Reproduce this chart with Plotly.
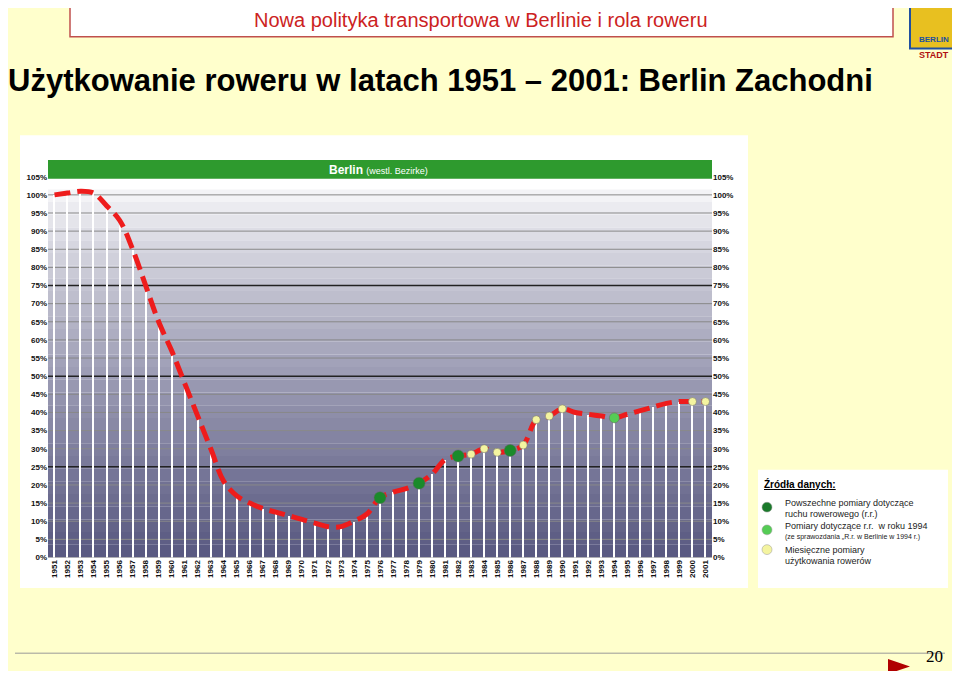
import plotly.graph_objects as go

# udział ruchu rowerowego, 1951 = 100%
years = list(range(1951, 2002))
usage = [100, 100.5, 101, 100.5, 97, 93, 85, 75, 65, 57,
         48, 39, 30, 21, 17, 15, 13.5, 12.5, 11.5, 10.5,
         9.5, 8.5, 8.5, 10, 12, 16.5, 18, 19, 20.5, 23,
         27, 28, 28.5, 30, 29, 29.5, 31, 38, 39, 41,
         40, 39.5, 39, 38.5, 39.5, 40.5, 41.5, 42.5, 43, 43, 43]

census_years = [1976, 1979, 1982, 1986]
survey94_years = [1994]
monthly_years = [1983, 1984, 1985, 1987, 1988, 1989, 1990, 2000, 2001]

yticks = list(range(0, 106, 5))
ytick_text = [f"{v}%" for v in yticks]

val = dict(zip(years, usage))

# page has an 8px body margin, so work in a 944x663 figure offset by 8px
OFF = 8
W, H = 960 - 2 * OFF, 679 - 2 * OFF
def px(x): return (x - OFF) / W
def py(y): return 1 - (y - OFF) / H

fig = go.Figure()

# white vertical lines under the curve
fig.add_trace(go.Bar(x=years, y=usage, width=0.09, marker_color="white",
                     marker_line_width=0, showlegend=False, hoverinfo="skip"))
fig.add_trace(go.Scatter(x=years, y=usage, mode="lines", line_shape="spline",
                         line=dict(color="#ee1c1c", width=5, dash="16px,7px"),
                         showlegend=False))
for ys, col, size in [(monthly_years, "#f4f4a0", 8),
                      (survey94_years, "#55cc55", 10),
                      (census_years, "#1a8a2a", 12)]:
    fig.add_trace(go.Scatter(x=ys, y=[val[y] for y in ys], mode="markers",
                             marker=dict(color=col, size=size, line=dict(color="#666", width=0.5)),
                             showlegend=False))
# right axis
fig.add_trace(go.Scatter(x=[years[0]], y=[0], yaxis="y2", mode="markers",
                         marker=dict(opacity=0), showlegend=False, hoverinfo="skip"))

shapes = []
shapes.append(dict(type="rect", xref="paper", yref="paper", x0=px(20), x1=px(748),
                   y0=py(592), y1=py(133), fillcolor="white", line_width=0, layer="below"))
# gradient plot background
n = 30
for i in range(n):
    t = (i / (n - 1)) ** 0.8
    r = int(255 - t * (255 - 90)); g = int(255 - t * (255 - 90)); b = int(255 - t * (255 - 130))
    shapes.append(dict(type="rect", xref="paper", yref="y", x0=px(48), x1=px(712),
                       y0=105 - (i + 1) * 105 / n, y1=105 - i * 105 / n,
                       fillcolor=f"rgb({r},{g},{b})", line_width=0, layer="below"))
for v in yticks:
    thick = v in (25, 50, 75)
    shapes.append(dict(type="line", xref="paper", yref="y", x0=px(48), x1=px(712), y0=v, y1=v,
                       line=dict(color="#222" if thick else "#888", width=1.5 if thick else 1),
                       layer="below"))
shapes.append(dict(type="rect", xref="paper", yref="paper", x0=px(48), x1=px(712),
                   y0=py(177), y1=py(158), fillcolor="#2e9a2e", line_width=0))
# header box
shapes.append(dict(type="rect", xref="paper", yref="paper", x0=px(70), x1=px(893),
                   y0=py(33), y1=py(0), fillcolor="white", line=dict(color="#c0504d", width=1.5)))
# logo
shapes.append(dict(type="rect", xref="paper", yref="paper", x0=px(910), x1=px(958),
                   y0=py(45), y1=py(2), fillcolor="#e8c020", line=dict(color="#2050a0", width=2)))
# legend box
shapes.append(dict(type="rect", xref="paper", yref="paper", x0=px(758), x1=px(948),
                   y0=py(592), y1=py(472), fillcolor="white", line_width=0))
for yy, col in [(510, "#1a7a2a"), (533, "#55cc55"), (553, "#f4f4a0")]:
    shapes.append(dict(type="circle", xref="paper", yref="paper", x0=px(762), x1=px(772),
                       y0=py(yy + 5), y1=py(yy - 5), fillcolor=col, line=dict(color="#999", width=0.5)))
# footer
shapes.append(dict(type="line", xref="paper", yref="paper", x0=px(15), x1=px(945),
                   y0=py(658), y1=py(658), line=dict(color="#999", width=1)))
shapes.append(dict(type="path", xref="paper", yref="paper",
                   path=f"M {px(888)} {py(664)} L {px(888)} {py(679)} L {px(910)} {py(671.5)} Z",
                   fillcolor="#b00000", line_width=0))

ann = []
def txt(x, y, s, size, color="black", anchor="left", font="Liberation Sans"):
    ann.append(dict(xref="paper", yref="paper", x=px(x), y=py(y), text=s, showarrow=False,
                    xanchor=anchor, yanchor="middle", font=dict(family=font, size=size, color=color)))
txt(481, 16, "Nowa polityka transportowa w Berlinie i rola roweru", 20, "#cc2222", "center")
txt(6, 77, "<b>Użytkowanie roweru w latach 1951 – 2001: Berlin Zachodni</b>", 31)
txt(378, 168, "<b>Berlin</b> <span style='font-size:9px'>(westl. Bezirke)</span>", 12, "white", "center")
txt(934, 36, "<b>BERLIN</b>", 8, "#2050a0", "center")
txt(934, 52, "<b>STADT</b>", 9, "#b01010", "center")
txt(762, 486, "<b><u>Źródła danych:</u></b>", 10)
txt(783, 506, "Powszechne pomiary dotyczące", 9, "#222")
txt(783, 517, "ruchu rowerowego (r.r.)", 9, "#222")
txt(783, 529, "Pomiary dotyczące r.r.  w roku 1994", 9, "#222")
txt(783, 540, "(ze sprawozdania „R.r. w Berlinie w 1994 r.)", 7, "#222")
txt(783, 553, "Miesięczne pomiary", 9, "#222")
txt(783, 565, "użytkowania rowerów", 9, "#222")
txt(924, 661, "20", 17, "black", "left", "Liberation Serif")

tickfont = dict(family="Liberation Sans", size=8, color="#111")
fig.update_layout(
    width=W, height=H, margin=dict(l=0, r=0, t=0, b=0),
    paper_bgcolor="#ffffcc", plot_bgcolor="rgba(0,0,0,0)",
    xaxis=dict(domain=[px(48), px(712)], range=[1950.5, 2001.5], tickmode="array",
               tickvals=years, ticktext=[f"<b>{y}</b>" for y in years], tickangle=-90,
               tickfont=tickfont, showgrid=False, zeroline=False, ticks=""),
    yaxis=dict(domain=[py(561), py(175)], range=[0, 105], tickvals=yticks,
               ticktext=[f"<b>{t}</b>" for t in ytick_text], tickfont=tickfont,
               showgrid=False, zeroline=False),
    yaxis2=dict(overlaying="y", side="right", range=[0, 105], tickvals=yticks,
                ticktext=[f"<b>{t}</b>" for t in ytick_text], tickfont=tickfont,
                showgrid=False, zeroline=False),
    bargap=0, shapes=shapes, annotations=ann,
)
fig.write_html("out.html")
